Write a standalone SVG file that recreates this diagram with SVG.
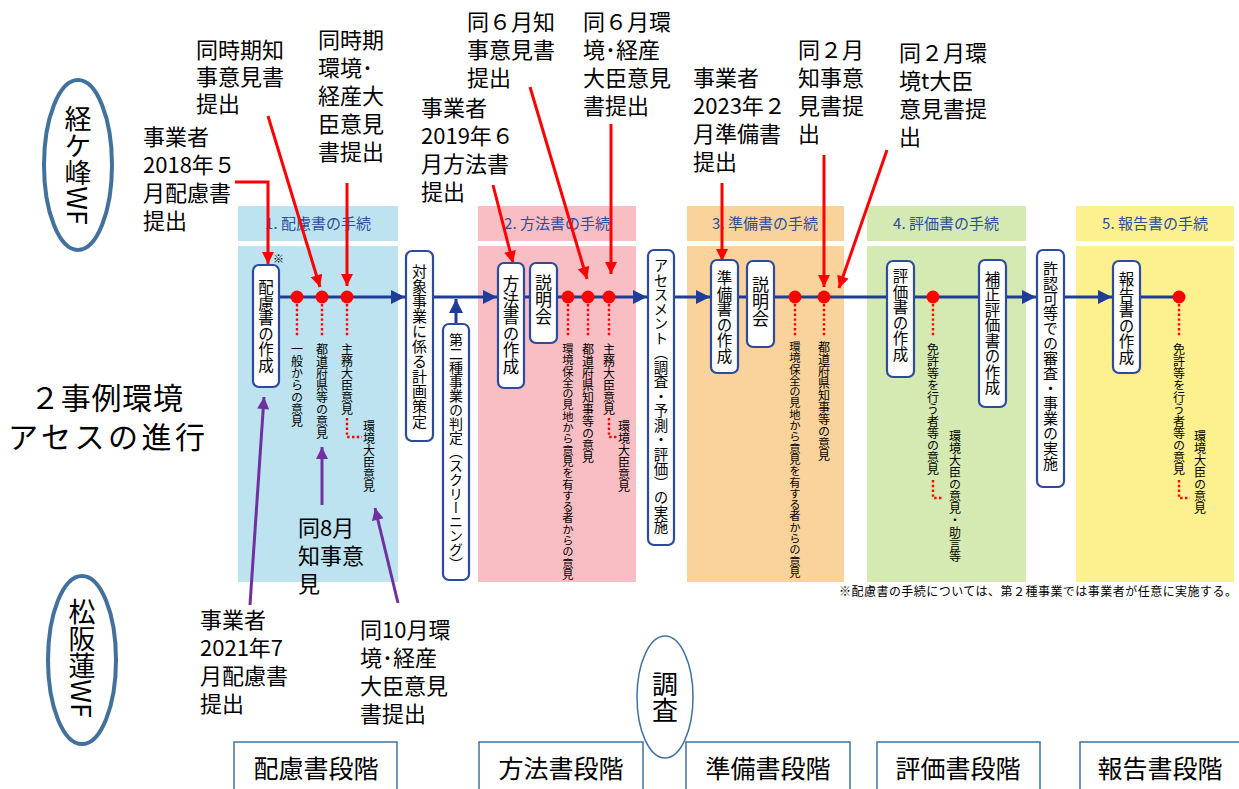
<svg xmlns="http://www.w3.org/2000/svg" width="1239" height="789" viewBox="0 0 1239 789">
<style>
text{font-family:"Noto Sans CJK JP","Noto Sans",sans-serif;fill:#000}
.v{writing-mode:vertical-rl}
.node rect{fill:#fff;stroke:#2C4A9E;stroke-width:2.2}
.node text{text-anchor:middle}
.hdr{font-size:15px;fill:#2E4C9E;text-anchor:middle}
.ann{font-size:22px}
.lbl{font-size:12px}
.lbl2{font-size:11.3px}
.ml{stroke:#1F3C96;stroke-width:3;fill:none}
.red{stroke:#FF0000;stroke-width:3;fill:none}
.pur{stroke:#7030A0;stroke-width:3;fill:none}
.dot{fill:#FF0000}
.dt{stroke:#FF0000;stroke-width:2.4;stroke-dasharray:2.4 2.4;fill:none}
.stage rect{fill:#fff;stroke:#41719C;stroke-width:1.5}
.stage text{font-size:25px;text-anchor:middle}
.ell{fill:#fff;stroke:#41719C}
</style>
<defs>
<marker id="ba" viewBox="0 0 10 10" refX="10" refY="5" markerUnits="userSpaceOnUse" markerWidth="17" markerHeight="14" orient="auto"><path d="M0,0L10,5L0,10z" fill="#1F3C96"/></marker>
<marker id="ra" viewBox="0 0 10 10" refX="10" refY="5" markerUnits="userSpaceOnUse" markerWidth="13" markerHeight="12" orient="auto"><path d="M0,0L10,5L0,10z" fill="#FF0000"/></marker>
<marker id="pa" viewBox="0 0 10 10" refX="10" refY="5" markerUnits="userSpaceOnUse" markerWidth="13" markerHeight="12" orient="auto"><path d="M0,0L10,5L0,10z" fill="#7030A0"/></marker>
</defs>
<rect width="1239" height="789" fill="#fff"/>

<g id="panels">
<rect x="238" y="206" width="160" height="35" fill="#BCE3EF"/>
<rect x="238" y="246" width="160" height="336" fill="#BCE3EF"/>
<rect x="478" y="206" width="158" height="35" fill="#F9BEC3"/>
<rect x="478" y="246" width="158" height="336" fill="#F9BEC3"/>
<rect x="687" y="206" width="157" height="35" fill="#FAD39C"/>
<rect x="687" y="246" width="157" height="336" fill="#FAD39C"/>
<rect x="867" y="206" width="159" height="35" fill="#D5EAB2"/>
<rect x="867" y="246" width="159" height="336" fill="#D5EAB2"/>
<rect x="1076" y="206" width="158" height="35" fill="#FDF08F"/>
<rect x="1076" y="246" width="158" height="336" fill="#FDF08F"/>
<text class="hdr" x="318" y="229">1. 配慮書の手続</text>
<text class="hdr" x="557" y="229">2. 方法書の手続</text>
<text class="hdr" x="765" y="229">3. 準備書の手続</text>
<text class="hdr" x="946" y="229">4. 評価書の手続</text>
<text class="hdr" x="1155" y="229">5. 報告書の手続</text>
</g>

<g id="connectors">
<line class="ml" x1="279" y1="297" x2="405" y2="297" marker-end="url(#ba)"/>
<line class="ml" x1="433" y1="297" x2="497" y2="297" marker-end="url(#ba)"/>
<line class="ml" x1="524" y1="297" x2="530" y2="297"/>
<line class="ml" x1="557" y1="297" x2="647" y2="297" marker-end="url(#ba)"/>
<line class="ml" x1="674" y1="297" x2="710" y2="297" marker-end="url(#ba)"/>
<line class="ml" x1="738" y1="297" x2="747" y2="297"/>
<line class="ml" x1="774" y1="297" x2="887" y2="297"/>
<line class="ml" x1="914" y1="297" x2="979" y2="297"/>
<line class="ml" x1="1006" y1="297" x2="1036" y2="297" marker-end="url(#ba)"/>
<line class="ml" x1="1064" y1="297" x2="1112" y2="297" marker-end="url(#ba)"/>
<line class="ml" x1="1140" y1="297" x2="1178" y2="297"/>
<line class="ml" x1="456" y1="324" x2="456" y2="299" marker-end="url(#ba)"/>

<path class="dt" d="M297,304V336M322,304V336M347,304V336M347,418V437H362"/>
<path class="dt" d="M568,304V336M588,304V336M609,304V336M609,418V437H617"/>
<path class="dt" d="M795,304V336M824,304V336"/>
<path class="dt" d="M933,304V336M933,480V498H943"/>
<path class="dt" d="M1179,304V336M1179,480V498H1190"/>

<polyline class="red" points="235,182 268,182 268,264" marker-end="url(#ra)"/>
<line class="red" x1="268" y1="116" x2="320" y2="287" marker-end="url(#ra)"/>
<line class="red" x1="347" y1="183" x2="347" y2="286" marker-end="url(#ra)"/>
<line class="red" x1="493" y1="185" x2="513" y2="263" marker-end="url(#ra)"/>
<line class="red" x1="530" y1="87" x2="587" y2="279" marker-end="url(#ra)"/>
<line class="red" x1="611" y1="124" x2="611" y2="274" marker-end="url(#ra)"/>
<line class="red" x1="722" y1="183" x2="722" y2="261" marker-end="url(#ra)"/>
<line class="red" x1="824" y1="155" x2="824" y2="287" marker-end="url(#ra)"/>
<line class="red" x1="887" y1="150" x2="839" y2="288" marker-end="url(#ra)"/>

<line class="pur" x1="250" y1="605" x2="264" y2="397" marker-end="url(#pa)"/>
<line class="pur" x1="322" y1="505" x2="322" y2="447" marker-end="url(#pa)"/>
<line class="pur" x1="398" y1="603" x2="375" y2="508" marker-end="url(#pa)"/>
</g>

<g id="dots">
<circle class="dot" cx="297" cy="297" r="6.5"/>
<circle class="dot" cx="322" cy="297" r="6.5"/>
<circle class="dot" cx="347" cy="297" r="6.5"/>
<circle class="dot" cx="568" cy="297" r="6.5"/>
<circle class="dot" cx="588" cy="297" r="6.5"/>
<circle class="dot" cx="609" cy="297" r="6.5"/>
<circle class="dot" cx="795" cy="297" r="6.5"/>
<circle class="dot" cx="824" cy="297" r="6.5"/>
<circle class="dot" cx="933" cy="297" r="6.5"/>
<circle class="dot" cx="1179" cy="297" r="6.5"/>
</g>

<g id="n-hairyo" class="node"><rect x="253" y="265" width="26" height="122" rx="6"/><text class="v" x="266" y="326" font-size="15.5">配慮書の作成</text></g>
<text x="273" y="263" font-size="11">※</text>
<g id="n-taisho" class="node"><rect x="406" y="251" width="27" height="190" rx="6"/><text class="v" x="419.5" y="346" font-size="15">対象事業に係る計画策定</text></g>
<g id="n-screen" class="node"><rect x="443" y="324" width="26" height="256" rx="6"/><text class="v" x="456" y="452" font-size="14">第二種事業の判定（スクリーニング）</text></g>
<g id="n-hoho" class="node"><rect x="498" y="263" width="26" height="125" rx="6"/><text class="v" x="511" y="325" font-size="16.5">方法書の作成</text></g>
<g id="n-setsu1" class="node"><rect x="530" y="263" width="27" height="80" rx="6"/><text class="v" x="543.5" y="300" font-size="17">説明会</text></g>
<g id="n-assess" class="node"><rect x="648" y="250" width="26" height="295" rx="6"/><text class="v" x="661" y="396" font-size="14.5">アセスメント（調査・予測・評価）の実施</text></g>
<g id="n-junbi" class="node"><rect x="711" y="260" width="27" height="113" rx="6"/><text class="v" x="724.5" y="317" font-size="15.5">準備書の作成</text></g>
<g id="n-setsu2" class="node"><rect x="747" y="261" width="27" height="86" rx="6"/><text class="v" x="760.5" y="302" font-size="17">説明会</text></g>
<g id="n-hyoka" class="node"><rect x="887" y="261" width="27" height="116" rx="6"/><text class="v" x="900.5" y="315" font-size="15.5">評価書の作成</text></g>
<g id="n-hosei" class="node"><rect x="979" y="260" width="27" height="147" rx="6"/><text class="v" x="992.5" y="333" font-size="15.5">補正評価書の作成</text></g>
<g id="n-kyoninka" class="node"><rect x="1037" y="250" width="27" height="237" rx="6"/><text class="v" x="1050.5" y="366" font-size="15">許認可等での審査・事業の実施</text></g>
<g id="n-hokoku" class="node"><rect x="1113" y="261" width="27" height="112" rx="6"/><text class="v" x="1126.5" y="318" font-size="15.5">報告書の作成</text></g>

<g id="labels">
<text class="v lbl" x="297" y="343">一般からの意見</text>
<text class="v lbl" x="322" y="343">都道府県等の意見</text>
<text class="v lbl" x="347" y="343">主務大臣意見</text>
<text class="v lbl" x="369" y="420">環境大臣意見</text>
<text class="v lbl2" x="568" y="343">環境保全の見地から意見を有する者からの意見</text>
<text class="v lbl" x="588" y="343">都道府県知事等の意見</text>
<text class="v lbl" x="609" y="343">主務大臣意見</text>
<text class="v lbl" x="624" y="420">環境大臣意見</text>
<text class="v lbl2" x="795" y="341">環境保全の見地から意見を有する者からの意見</text>
<text class="v lbl" x="824" y="341">都道府県知事等の意見</text>
<text class="v lbl" x="933" y="343">免許等を行う者等の意見</text>
<text class="v lbl" x="955" y="430">環境大臣の意見・助言等</text>
<text class="v lbl" x="1179" y="343">免許等を行う者等の意見</text>
<text class="v lbl" x="1200" y="430">環境大臣の意見</text>
<text x="839" y="596" font-size="12" textLength="398">※配慮書の手続については、第２種事業では事業者が任意に実施する。</text>
</g>

<g id="annotations">
<text class="ann" x="143" y="145">事業者<tspan x="143" dy="28">2018年５</tspan><tspan x="143" dy="28">月配慮書</tspan><tspan x="143" dy="28">提出</tspan></text>
<text class="ann" x="196" y="58">同時期知<tspan x="196" dy="27">事意見書</tspan><tspan x="196" dy="27">提出</tspan></text>
<text class="ann" x="318" y="48">同時期<tspan x="318" dy="28">環境･</tspan><tspan x="318" dy="28">経産大</tspan><tspan x="318" dy="28">臣意見</tspan><tspan x="318" dy="28">書提出</tspan></text>
<text class="ann" x="421" y="116">事業者<tspan x="421" dy="28">2019年６</tspan><tspan x="421" dy="28">月方法書</tspan><tspan x="421" dy="28">提出</tspan></text>
<text class="ann" x="467" y="30">同６月知<tspan x="467" dy="28">事意見書</tspan><tspan x="467" dy="28">提出</tspan></text>
<text class="ann" x="583" y="30">同６月環<tspan x="583" dy="28">境･経産</tspan><tspan x="583" dy="28">大臣意見</tspan><tspan x="583" dy="28">書提出</tspan></text>
<text class="ann" x="693" y="86">事業者<tspan x="693" dy="28">2023年２</tspan><tspan x="693" dy="28">月準備書</tspan><tspan x="693" dy="28">提出</tspan></text>
<text class="ann" x="798" y="58">同２月<tspan x="798" dy="28">知事意</tspan><tspan x="798" dy="28">見書提</tspan><tspan x="798" dy="28">出</tspan></text>
<text class="ann" x="899" y="61">同２月環<tspan x="899" dy="28">境t大臣</tspan><tspan x="899" dy="28">意見書提</tspan><tspan x="899" dy="28">出</tspan></text>
<text class="ann" x="298" y="536">同8月<tspan x="298" dy="28">知事意</tspan><tspan x="298" dy="28">見</tspan></text>
<text class="ann" x="200" y="628">事業者<tspan x="200" dy="28">2021年7</tspan><tspan x="200" dy="28">月配慮書</tspan><tspan x="200" dy="28">提出</tspan></text>
<text class="ann" x="360" y="638">同10月環<tspan x="360" dy="28">境･経産</tspan><tspan x="360" dy="28">大臣意見</tspan><tspan x="360" dy="28">書提出</tspan></text>
</g>

<g id="title">
<text x="30" y="409" font-size="30" textLength="153">２事例環境</text>
<text x="8" y="448" font-size="30" textLength="197">アセスの進行</text>
</g>

<g id="wf1"><ellipse class="ell" cx="78" cy="165" rx="34" ry="85" stroke-width="4"/><text class="v" x="78" y="165" font-size="27" text-anchor="middle">経ケ峰WF</text></g>
<g id="wf2"><ellipse class="ell" cx="82" cy="660" rx="34" ry="84" stroke-width="4"/><text class="v" x="82" y="658" font-size="27" text-anchor="middle">松阪蓮WF</text></g>
<g id="chosa"><ellipse class="ell" cx="665" cy="697" rx="28" ry="61" stroke-width="1.5"/><text class="v" x="665" y="697" font-size="26" text-anchor="middle">調査</text></g>

<g id="stages" class="stage">
<g id="s1"><rect x="234" y="742" width="163" height="60"/><text x="316" y="778">配慮書段階</text></g>
<g id="s2"><rect x="479" y="742" width="164" height="60"/><text x="561" y="778">方法書段階</text></g>
<g id="s3"><rect x="686" y="742" width="164" height="60"/><text x="768" y="778">準備書段階</text></g>
<g id="s4"><rect x="877" y="742" width="163" height="60"/><text x="958" y="778">評価書段階</text></g>
<g id="s5"><rect x="1080" y="742" width="164" height="60"/><text x="1160" y="778">報告書段階</text></g>
</g>
</svg>
